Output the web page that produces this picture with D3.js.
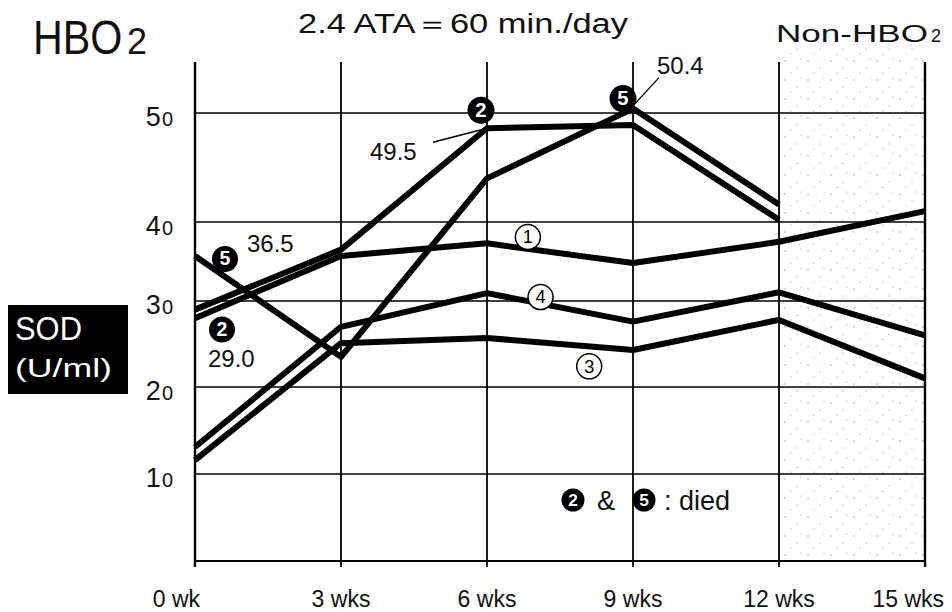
<!DOCTYPE html>
<html>
<head>
<meta charset="utf-8">
<script src="https://cdn.jsdelivr.net/npm/d3@7"></script>
<style>
  html, body { margin: 0; padding: 0; background: #fff; }
  svg { display: block; font-family: "Liberation Sans", Arial, sans-serif; }
</style>
</head>
<body>
<svg id="chart" width="952" height="612"></svg>
<script>
// ---- data ----
const weeks = [0, 3, 6, 9, 12, 15];
const weekLabels = ["0 wk", "3 wks", "6 wks", "9 wks", "12 wks", "15 wks"];
const yTicks = [10, 20, 30, 40, 50];
const yTickLabels = ["10", "20", "30", "40", "50"];
const series1 = [28.0, 35.7, 37.3, 34.8, 37.5, 41.0];
const series2 = [29.0, 36.5, 48.6, 48.9, 40.2, null];
const series3 = [11.6, 25.1, 25.7, 24.3, 27.8, 21.0];
const series4 = [13.1, 27.0, 31.0, 27.6, 31.1, 26.0];
const series5 = [35.7, 23.5, 44.0, 50.4, 41.6, null];
const seriesList = [series1, series2, series3, series4, series5];
// circled series labels: [text, week position, value position]
const seriesLabels = [["1", 6.84, 38.1], ["4", 7.1, 30.5], ["3", 8.1, 22.4]];
const title = "2.4 ATA\uFF1D60 min./day";

// ---- layout ----
const svg = d3.select("#chart");
const x = d3.scaleLinear().domain([0, 15]).range([195, 925]);
const y = d3.scaleLinear().domain([0, 10, 20, 30, 40, 50, 55]).range([561, 474, 387, 301, 222, 113, 58]);
const yTop = 62, yBottom = y(0);

// stipple pattern for the Non-HBO2 period
const defs = svg.append("defs");
const pat = defs.append("pattern").attr("id", "stip").attr("patternUnits", "userSpaceOnUse")
  .attr("width", 23).attr("height", 19);
[[3, 4, 0.7], [15, 11, 0.6], [9, 16, 0.6], [19, 2, 0.5]].forEach(d =>
  pat.append("circle").attr("cx", d[0]).attr("cy", d[1]).attr("r", d[2]).attr("fill", "#8a8a8a"));
svg.append("rect").attr("x", x(12)).attr("y", 45).attr("width", x(15) - x(12)).attr("height", yBottom - 45)
  .attr("fill", "url(#stip)");

// horizontal gridlines
svg.append("g").selectAll("line").data(yTicks).join("line")
  .attr("x1", x(0)).attr("x2", x(15)).attr("y1", d => y(d)).attr("y2", d => y(d))
  .attr("stroke", "#000").attr("stroke-width", 1.7);
// bottom axis line
svg.append("line").attr("x1", x(0)).attr("x2", x(15)).attr("y1", yBottom).attr("y2", yBottom)
  .attr("stroke", "#000").attr("stroke-width", 2);
// vertical gridlines
svg.append("g").selectAll("line").data(weeks).join("line")
  .attr("x1", d => x(d)).attr("x2", d => x(d)).attr("y1", yTop).attr("y2", yBottom + 6)
  .attr("stroke", "#000").attr("stroke-width", (d, i) => (i === 0 || i === weeks.length - 1) ? 2.4 : 1.8);

// y tick labels (small "o"-like zero)
const yl = svg.append("g").selectAll("text").data(yTicks).join("text")
  .attr("x", 173).attr("y", d => y(d) + 13).attr("text-anchor", "end")
  .attr("font-size", 27).attr("fill", "#111");
yl.append("tspan").text((d, i) => yTickLabels[i].slice(0, 1));
yl.append("tspan").attr("font-size", 20).attr("dx", 1).text((d, i) => yTickLabels[i].slice(1));

// x tick labels
svg.append("g").selectAll("text").data(weeks).join("text")
  .attr("x", (d, i) => i === 0 ? x(d) + 5 : i === weeks.length - 1 ? x(d) + 19 : x(d))
  .attr("y", 607)
  .attr("text-anchor", (d, i) => (i === 0 || i === weeks.length - 1) ? "end" : "middle")
  .attr("font-size", 23).attr("fill", "#111")
  .text((d, i) => weekLabels[i]);

// series lines
const line = d3.line().defined(d => d != null).x((d, i) => x(weeks[i])).y(d => y(d));
svg.append("g").selectAll("path").data(seriesList).join("path")
  .attr("d", d => line(d))
  .attr("fill", "none").attr("stroke", "#000").attr("stroke-width", 6)
  .attr("stroke-linejoin", "round").attr("stroke-linecap", "butt");

// ---- annotations ----
function blackMarker(cx, cy, r, label) {
  svg.append("circle").attr("cx", cx).attr("cy", cy).attr("r", r).attr("fill", "#000");
  svg.append("text").attr("x", cx).attr("y", cy + r * 0.5).attr("text-anchor", "middle")
    .attr("font-size", r * 1.5).attr("font-weight", "bold").attr("fill", "#fff").text(label);
}
function openMarker(cx, cy, r, label) {
  svg.append("circle").attr("cx", cx).attr("cy", cy).attr("r", r).attr("fill", "#fff")
    .attr("stroke", "#000").attr("stroke-width", 1.5);
  svg.append("text").attr("x", cx).attr("y", cy + r * 0.5).attr("text-anchor", "middle")
    .attr("font-size", r * 1.45).attr("fill", "#000").text(label);
}
function valueText(tx, ty, t) {
  svg.append("text").attr("x", tx).attr("y", ty).attr("font-size", 24).attr("fill", "#111").text(t);
}
function leader(x1, y1, x2, y2) {
  svg.append("line").attr("x1", x1).attr("y1", y1).attr("x2", x2).attr("y2", y2)
    .attr("stroke", "#000").attr("stroke-width", 1.4);
}

// (2) at 6 wks, 49.5
{
  const px = x(weeks[2]), py = y(series2[2]);
  blackMarker(px - 6, py - 18, 13.5, "2");
  leader(px - 54, py + 14, px, py);
  valueText(px - 117, py + 32, "49.5");
}
// (5) at 9 wks, 50.4
{
  const px = x(weeks[3]), py = y(series5[3]);
  blackMarker(px - 10, py - 10, 13.5, "5");
  leader(px + 2, py - 5, px + 26, py - 31);
  valueText(px + 24, py - 35, "50.4");
}
// (5) at 0 wk, 36.5
{
  const px = x(weeks[0]), py = y(series5[0]);
  blackMarker(px + 30, py + 3, 13, "5");
  valueText(px + 52, py - 4, "36.5");
}
// (2) at 0 wk, 29.0
{
  const px = x(weeks[0]), py = y(series2[0]);
  blackMarker(px + 27, py + 20, 13, "2");
  valueText(px + 13, py + 57, "29.0");
}
// open circled series numbers
seriesLabels.forEach(d => openMarker(x(d[1]), y(d[2]), 12.5, d[0]));

// legend: (2) & (5) : died
blackMarker(573, 500, 11.5, "2");
svg.append("text").attr("x", 597).attr("y", 510).attr("font-size", 27).attr("fill", "#111").text("&");
blackMarker(644, 500, 11.5, "5");
svg.append("text").attr("x", 664).attr("y", 510).attr("font-size", 27).attr("fill", "#111").text(": died");

// titles
svg.append("text").attr("transform", "translate(33,54) scale(0.86,1)").attr("fill", "#111")
  .attr("font-size", 48).text("HBO");
svg.append("text").attr("x", 127).attr("y", 54).attr("fill", "#111").attr("font-size", 36).text("2");

svg.append("text").attr("x", 298).attr("y", 33).attr("font-size", 27).attr("fill", "#111")
  .attr("textLength", 330).attr("lengthAdjust", "spacingAndGlyphs").text(title);

svg.append("text").attr("x", 776).attr("y", 42).attr("fill", "#111").attr("font-size", 23)
  .attr("textLength", 152).attr("lengthAdjust", "spacingAndGlyphs").text("Non-HBO");
svg.append("text").attr("x", 931).attr("y", 42).attr("fill", "#111").attr("font-size", 18).text("2");

// SOD (U/ml) box
svg.append("rect").attr("x", 8).attr("y", 305).attr("width", 120).attr("height", 89).attr("fill", "#000");
svg.append("text").attr("x", 15).attr("y", 340).attr("font-size", 33).attr("fill", "#fff")
  .attr("textLength", 67).attr("lengthAdjust", "spacingAndGlyphs").text("SOD");
svg.append("text").attr("x", 15).attr("y", 377).attr("font-size", 26).attr("fill", "#fff")
  .attr("textLength", 97).attr("lengthAdjust", "spacingAndGlyphs").text("(U/ml)");
</script>
</body>
</html>
